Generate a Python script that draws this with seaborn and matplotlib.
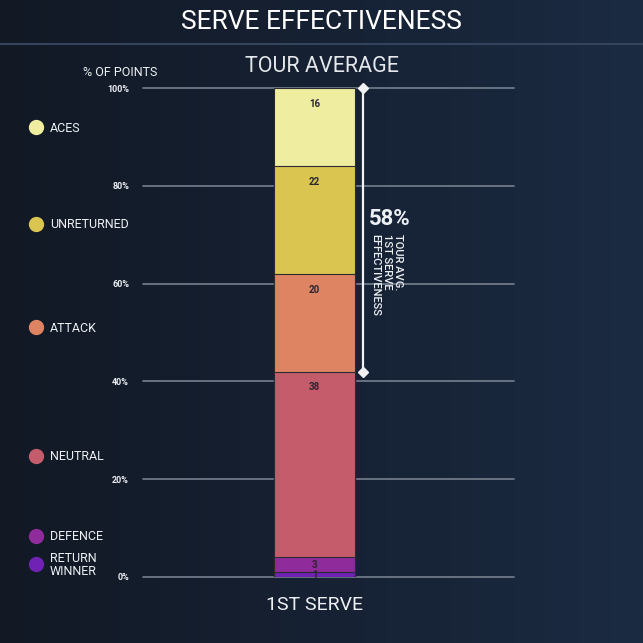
import matplotlib
matplotlib.use("Agg")
import matplotlib.pyplot as plt
import seaborn as sns
import numpy as np
import pandas as pd
from matplotlib.colors import LinearSegmentedColormap

# data (bottom to top of the stack)
categories = ["RETURN\nWINNER", "DEFENCE", "NEUTRAL", "ATTACK", "UNRETURNED", "ACES"]
values = [1, 3, 38, 20, 22, 16]
colors = ["#6f22b3", "#902b9c", "#c45c6b", "#de8462", "#d9c54f", "#eeeda0"]
serve_label = "1ST SERVE"
yticks = [0, 20, 40, 60, 80, 100]
ytick_labels = ["0%", "20%", "40%", "60%", "80%", "100%"]
effective_groups = ["ATTACK", "UNRETURNED", "ACES"]

FONT = ["Roboto", "DejaVu Sans"]
TXT = "#eef1f4"

sns.set_style("dark")
plt.rcParams["font.family"] = FONT

fig = plt.figure(figsize=(6.43, 6.43), dpi=100)

# background gradient
bg = fig.add_axes([0, 0, 1, 1], zorder=-10)
grad = np.linspace(0, 1, 256).reshape(1, -1)
bg_cmap = LinearSegmentedColormap.from_list("bg", ["#121925", "#162133", "#1b2b42"])
bg.imshow(grad, aspect="auto", cmap=bg_cmap, extent=[0, 1, 0, 1])
bg.set_axis_off()

W = H = 643.0
def fx(px):
    return px / W
def fy(py):
    return 1 - py / H

ax = fig.add_axes([fx(143), fy(577), fx(514) - fx(143), fy(88) - fy(577)])
ax.set_facecolor("none")

df = pd.DataFrame({"serve": serve_label, "group": categories, "value": values})
df["top"] = df["value"].cumsum()
df["bottom"] = df["top"] - df["value"]

# stacked bar: draw cumulative heights from the top down
for i in range(len(df) - 1, -1, -1):
    row = df.iloc[[i]]
    sns.barplot(data=row, x="serve", y="top", color=colors[i], width=1.0,
                edgecolor="#2b2a30", linewidth=0.8, saturation=1, ax=ax, zorder=3)

# gridlines
for t in yticks:
    ax.axhline(t, color="#76808e", lw=1.2, zorder=1, clip_on=False)

ax.set_xlim(-2.12, 2.46)
ax.set_ylim(0, 100)
for s in ax.spines.values():
    s.set_visible(False)
ax.grid(False)
ax.set_xlabel("")
ax.set_ylabel("")
ax.set_yticks(yticks)
ax.set_yticklabels(ytick_labels, fontsize=6.5, fontweight="bold", color=TXT)
ax.tick_params(axis="y", length=0, pad=10)
ax.tick_params(axis="x", length=0, pad=14, labelsize=14, labelcolor=TXT)

# segment value labels near the top of each segment
for _, r in df.iterrows():
    if r["value"] >= 10:
        y = r["top"] - 2.2
        va = "top"
    else:
        y = (r["top"] + r["bottom"]) / 2
        va = "center"
    ax.text(0, y, f"{r['value']:g}", ha="center", va=va, fontsize=7,
            fontweight="bold", color="#2a2630", zorder=5)

# tour average effectiveness bracket
eff = df[df["group"].isin(effective_groups)]
eff_lo, eff_hi = eff["bottom"].min(), eff["top"].max()
eff_total = eff["value"].sum()
ax.plot([0.59, 0.59], [eff_lo, eff_hi], color="#f2f2f2", lw=1.6, zorder=4,
        clip_on=False)
ax.plot([0.59, 0.59], [eff_lo, eff_hi], ls="none", marker="D", ms=5,
        color="#f2f2f2", zorder=4, clip_on=False)
fig.text(fx(369), fy(208), f"{eff_total:g}%", ha="left", va="top",
         fontsize=16, fontweight="bold", color=TXT)
fig.text(fx(370), fy(234), "TOUR AVG.\n1ST SERVE\nEFFECTIVENESS", rotation=270,
         ha="left", va="top", fontsize=8, color=TXT, linespacing=1.2,
         fontweight="medium")

# titles
fig.text(0.5, fy(22), "SERVE EFFECTIVENESS", ha="center", va="center",
         fontsize=19, color="#ffffff")
fig.add_artist(plt.Line2D([0, 1], [fy(44), fy(44)], color="#33445c", lw=1.5))
fig.text(0.5, fy(66), "TOUR AVERAGE", ha="center", va="center",
         fontsize=15.5, color="#e4e8ec")
fig.text(fx(120), fy(72), "% OF POINTS", ha="center", va="center",
         fontsize=9, color=TXT)

# legend
legend_y = [564, 536, 456, 327, 224, 127]
for lab, c, py in zip(categories, colors, legend_y):
    fig.add_artist(plt.Line2D([fx(36)], [fy(py)], marker="o", ms=10,
                              color=c, ls="none"))
    fig.text(fx(50), fy(py + 1), lab, ha="left", va="center", fontsize=9,
             color=TXT, linespacing=0.95)

fig.savefig("out.png", dpi=100, facecolor="#141c28")
